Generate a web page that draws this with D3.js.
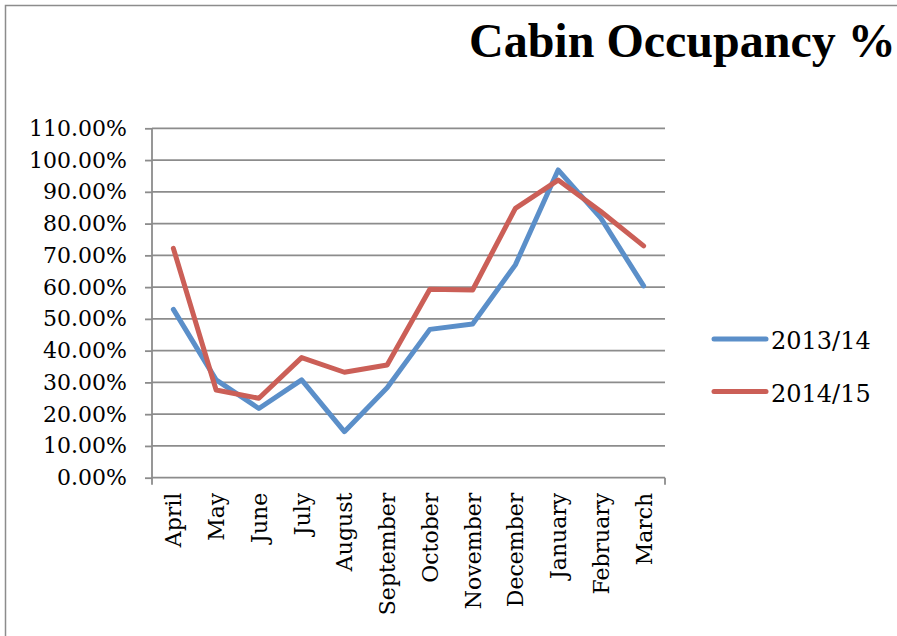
<!DOCTYPE html>
<meta charset="utf-8">
<script src="https://d3js.org/d3.v7.min.js"></script>
<style>
  body { margin: 0; background: #fff; }
  text { font-family: "DejaVu Serif", "Liberation Serif", serif; }
</style>
<div id="chart"></div>
<script>
  // data
  const months = ["April", "May", "June", "July", "August", "September",
    "October", "November", "December", "January", "February", "March"];
  const occ1314 = [53.0, 30.8, 21.8, 30.8, 14.5, 28.3, 46.7, 48.4, 67.0, 96.9, 81.7, 60.4];
  const occ1415 = [72.2, 27.6, 25.0, 37.8, 33.2, 35.5, 59.3, 59.1, 84.8, 93.7, 83.8, 73.0];
  const seriesNames = ["2013/14", "2014/15"];
  const yTicks = [0, 10, 20, 30, 40, 50, 60, 70, 80, 90, 100, 110];

  const colors = ["#5B8FC9", "#CB5F57"];
  const series = [occ1314, occ1415];

  const W = 897, H = 636;
  const plot = {left: 152, right: 665, top: 128.3, bottom: 477.7};

  const svg = d3.select("#chart").append("svg")
    .attr("width", W).attr("height", H);

  // chart border
  svg.append("rect")
    .attr("x", 5.5).attr("y", 5.5)
    .attr("width", W + 20).attr("height", H + 20)
    .attr("fill", "none").attr("stroke", "#8c8c8c").attr("stroke-width", 1.5);

  // title
  svg.append("text")
    .attr("x", 469).attr("y", 57)
    .style("font-family", "'Liberation Serif', serif")
    .style("font-size", "48px").style("font-weight", "bold")
    .attr("fill", "#000")
    .text("Cabin Occupancy %");

  const x = d3.scaleBand().domain(months).range([plot.left, plot.right]);
  const y = d3.scaleLinear().domain([0, 110]).range([plot.bottom, plot.top]);

  // gridlines
  svg.append("g").selectAll("line")
    .data(yTicks.filter(d => d > 0))
    .join("line")
      .attr("x1", plot.left).attr("x2", plot.right)
      .attr("y1", d => y(d)).attr("y2", d => y(d))
      .attr("stroke", "#8c8c8c").attr("stroke-width", 1.8);

  // y axis
  const yAxis = svg.append("g")
    .attr("transform", `translate(${plot.left},0)`)
    .call(d3.axisLeft(y).tickValues(yTicks).tickSize(7).tickPadding(18)
      .tickFormat(d => d.toFixed(2) + "%"));
  yAxis.select(".domain").remove();
  yAxis.selectAll(".tick line").attr("stroke", "#8c8c8c").attr("stroke-width", 1.8);
  yAxis.selectAll(".tick text").style("font-size", "22px").attr("fill", "#000");
  svg.append("line")
    .attr("x1", plot.left).attr("x2", plot.left)
    .attr("y1", plot.top).attr("y2", plot.bottom + 7)
    .attr("stroke", "#8c8c8c").attr("stroke-width", 1.8);

  // x axis
  svg.append("line")
    .attr("x1", plot.left).attr("x2", plot.right)
    .attr("y1", plot.bottom).attr("y2", plot.bottom)
    .attr("stroke", "#8c8c8c").attr("stroke-width", 1.8);
  svg.append("line")
    .attr("x1", plot.right).attr("x2", plot.right)
    .attr("y1", plot.bottom).attr("y2", plot.bottom + 7)
    .attr("stroke", "#8c8c8c").attr("stroke-width", 1.8);

  svg.append("g").selectAll("text")
    .data(months)
    .join("text")
      .attr("transform", d => `translate(${x(d) + x.bandwidth() / 2 + 8},${plot.bottom + 15}) rotate(-90)`)
      .attr("text-anchor", "end")
      .style("font-size", "22px")
      .attr("fill", "#000")
      .text(d => d);

  // lines
  const line = d3.line()
    .x((d, i) => x(months[i]) + x.bandwidth() / 2)
    .y(d => y(d));

  svg.append("g").selectAll("path")
    .data(series)
    .join("path")
      .attr("d", d => line(d))
      .attr("fill", "none")
      .attr("stroke", (d, i) => colors[i])
      .attr("stroke-width", 5)
      .attr("stroke-linejoin", "round")
      .attr("stroke-linecap", "round");

  // legend
  const legend = svg.append("g").selectAll("g")
    .data(seriesNames)
    .join("g")
      .attr("transform", (d, i) => `translate(714,${339 + i * 52.5})`);
  legend.append("line")
    .attr("x1", 0).attr("x2", 52)
    .attr("stroke", (d, i) => colors[i])
    .attr("stroke-width", 5).attr("stroke-linecap", "round");
  legend.append("text")
    .attr("x", 57).attr("y", 10)
    .style("font-size", "24px").attr("fill", "#000")
    .text(d => d);
</script>
